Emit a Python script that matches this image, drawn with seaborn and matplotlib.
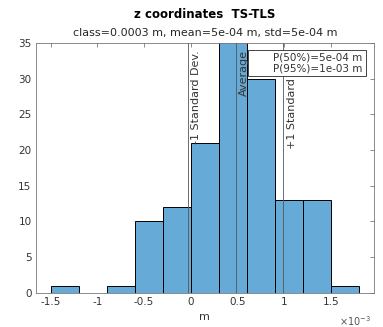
import numpy as np
import pandas as pd
import matplotlib
matplotlib.use("Agg")
import matplotlib.pyplot as plt
from matplotlib.patches import Rectangle
import seaborn as sns

# histogram data (x in units of 1e-3 m)
bin_edges = [-1.5, -1.2, -0.9, -0.6, -0.3, 0.0, 0.3, 0.6, 0.9, 1.2, 1.5, 1.8]
counts = [1, 0, 1, 10, 12, 21, 38, 30, 13, 13, 1]
mean_val = 0.48
std_val = 0.51
line_labels = ["-1 Standard Dev.", "Average", "+1 Standard Dev."]
percentile_text = ["P(50%)=5e-04 m", "P(95%)=1e-03 m"]

centers = [(a + b) / 2 for a, b in zip(bin_edges[:-1], bin_edges[1:])]
df = pd.DataFrame({"z": centers, "n": counts})

sns.set_style("white")
plt.rcParams["font.family"] = ["DejaVu Sans"]

fig = plt.figure(figsize=(3.83, 3.27), dpi=100)
ax = fig.add_axes([0.093, 0.105, 0.884, 0.763])

sns.histplot(data=df, x="z", weights="n", bins=bin_edges, ax=ax,
             color="#66AAD7", alpha=1.0, edgecolor="black", linewidth=0.7)

# standard deviation / mean lines
for xv, lab in zip([mean_val - std_val, mean_val, mean_val + std_val], line_labels):
    ax.axvline(xv, color="#555555", lw=0.6, zorder=3)
    ax.text(xv + 0.035, 34.0, lab, rotation=90, ha="left", va="top",
            fontsize=8, color="#333333", zorder=3)

# percentile box (drawn like the MATLAB legend)
ax.add_patch(Rectangle((0.61, 30.4), 1.26, 3.66, fc="white", ec="#262626",
                       lw=0.6, zorder=5))
ax.text(1.835, 32.25, "\n".join(percentile_text), ha="right", va="center",
        fontsize=7.5, color="#333333", linespacing=1.15, zorder=6)

ax.set_xlim(-1.66, 1.96)
ax.set_ylim(0, 35)
ax.set_xticks([-1.5, -1, -0.5, 0, 0.5, 1, 1.5])
ax.set_xticklabels(["-1.5", "-1", "-0.5", "0", "0.5", "1", "1.5"])
ax.set_yticks(range(0, 36, 5))
ax.set_xlabel("m", fontsize=8, color="#333333", labelpad=4)
ax.set_ylabel("")
ax.tick_params(direction="in", length=3, width=0.6, labelsize=7.5,
               labelcolor="#333333", color="#777777", top=True, right=True, pad=3)
for s in ax.spines.values():
    s.set_color("#777777")
    s.set_linewidth(0.6)

ax.text(0.99, -0.085, r"$\times10^{-3}$", transform=ax.transAxes, ha="right",
        va="top", fontsize=7, color="#555555")

fig.text(0.535, 0.955, "z coordinates  TS-TLS", ha="center", va="center",
         fontsize=8.5, fontweight="bold", color="black")
fig.text(0.535, 0.9, "class=0.0003 m, mean=5e-04 m, std=5e-04 m", ha="center",
         va="center", fontsize=8, color="#262626")

fig.savefig("out.png", dpi=100)
